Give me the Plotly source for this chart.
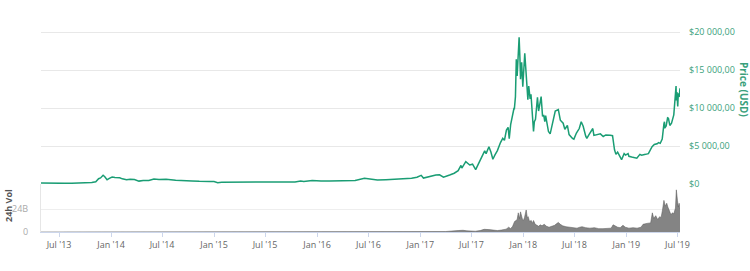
import plotly.graph_objects as go

# ---- price data (USD) ----
price_dates = [
    "2013-04-28","2013-05-15","2013-06-15","2013-07-05","2013-07-20","2013-08-15","2013-09-15","2013-10-10",
    "2013-10-25","2013-11-08","2013-11-18","2013-11-25","2013-12-01","2013-12-04","2013-12-10","2013-12-18",
    "2013-12-26","2014-01-05","2014-01-15","2014-02-01","2014-02-10","2014-02-25","2014-03-10","2014-03-25",
    "2014-04-10","2014-04-25","2014-05-15","2014-06-02","2014-06-20","2014-07-15","2014-08-18","2014-09-10",
    "2014-09-25","2014-10-15","2014-11-10","2014-11-20","2014-12-15","2015-01-01","2015-01-14","2015-01-28",
    "2015-02-15","2015-03-10","2015-04-15","2015-05-15","2015-06-15","2015-07-10","2015-08-15","2015-09-15",
    "2015-10-15","2015-11-04","2015-11-15","2015-12-15","2016-01-15","2016-02-15","2016-03-15","2016-04-15",
    "2016-05-15","2016-06-17","2016-07-01","2016-08-02","2016-09-01","2016-10-01","2016-11-01","2016-12-01",
    "2016-12-20","2017-01-04","2017-01-12","2017-02-01","2017-02-25","2017-03-10","2017-03-24","2017-04-15",
    "2017-05-01","2017-05-15","2017-05-25","2017-05-28","2017-06-11","2017-06-25","2017-07-05","2017-07-16",
    "2017-07-25","2017-08-05","2017-08-17","2017-08-22","2017-09-01","2017-09-08","2017-09-15","2017-09-22",
    "2017-10-01","2017-10-12","2017-10-20","2017-10-26","2017-11-02","2017-11-08","2017-11-12","2017-11-17",
    "2017-11-26","2017-11-29","2017-11-30","2017-12-04","2017-12-07","2017-12-10","2017-12-13","2017-12-17",
    "2017-12-20","2017-12-22","2017-12-26","2017-12-30","2018-01-06","2018-01-10","2018-01-13","2018-01-17",
    "2018-01-20","2018-01-25","2018-01-28","2018-02-01","2018-02-06","2018-02-09","2018-02-13","2018-02-20",
    "2018-02-24","2018-03-05","2018-03-10","2018-03-14","2018-03-18","2018-03-21","2018-03-31","2018-04-06",
    "2018-04-13","2018-04-24","2018-05-05","2018-05-12","2018-05-22","2018-05-28","2018-06-06","2018-06-12",
    "2018-06-24","2018-06-29","2018-07-08","2018-07-18","2018-07-25","2018-08-01","2018-08-10","2018-08-14",
    "2018-08-20","2018-09-04","2018-09-08","2018-09-20","2018-10-01","2018-10-11","2018-10-20","2018-11-05",
    "2018-11-13","2018-11-20","2018-11-25","2018-12-01","2018-12-15","2018-12-24","2018-12-29","2019-01-07",
    "2019-01-10","2019-01-20","2019-01-30","2019-02-07","2019-02-18","2019-02-24","2019-03-10","2019-03-20",
    "2019-04-02","2019-04-10","2019-04-20","2019-04-25","2019-05-01","2019-05-08","2019-05-14","2019-05-16",
    "2019-05-17","2019-05-22","2019-05-27","2019-05-30","2019-06-04","2019-06-10","2019-06-18","2019-06-22",
    "2019-06-26","2019-06-27","2019-06-29","2019-07-02","2019-07-04","2019-07-07","2019-07-10",
]
price_usd = [
    135, 115, 100, 70, 90, 105, 130, 125,
    185, 300, 700, 800, 980, 1150, 950, 550,
    750, 920, 850, 820, 680, 550, 640, 580,
    380, 470, 450, 660, 600, 620, 480, 480,
    420, 400, 360, 380, 340, 315, 180, 240,
    240, 290, 220, 240, 240, 290, 230, 230,
    260, 400, 330, 450, 380, 410, 415, 425,
    455, 750, 680, 540, 575, 615, 730, 750,
    900, 1140, 780, 980, 1180, 1200, 900, 1180,
    1420, 1750, 2450, 2100, 2950, 2500, 2600, 1900,
    2600, 3250, 4350, 4000, 4900, 4200, 3250, 3800,
    4400, 5450, 6000, 5750, 7100, 7450, 5950, 7800,
    9250, 10000, 9800, 11500, 16400, 14200, 16800, 19300,
    16400, 13800, 16000, 12800, 17200, 14500, 14200, 11100,
    12900, 11200, 11800, 9200, 6900, 8200, 8500, 11400,
    9600, 11500, 8900, 9100, 8200, 9000, 6900, 6600,
    7900, 9600, 9800, 8400, 8000, 7200, 7700, 6500,
    6000, 5900, 6700, 7300, 8200, 7600, 6300, 6000,
    6400, 7300, 6400, 6500, 6600, 6250, 6450, 6400,
    6350, 4500, 3900, 4200, 3200, 4000, 3800, 4000,
    3650, 3550, 3450, 3400, 3900, 3800, 3900, 4000,
    4900, 5200, 5300, 5450, 5350, 5900, 7900, 8200,
    7350, 7650, 8700, 8650, 7700, 8000, 9100, 10700,
    12900, 11000, 12100, 10200, 11950, 11450, 12600,
]

# ---- 24h volume data (USD billions) ----
vol_dates = [
    "2013-04-28","2017-01-01","2017-04-01","2017-05-15","2017-06-01","2017-06-15","2017-07-01","2017-07-15",
    "2017-08-01","2017-08-15","2017-09-01","2017-09-15","2017-10-01","2017-10-15","2017-11-01","2017-11-10",
    "2017-11-17","2017-11-24","2017-12-01","2017-12-06","2017-12-10","2017-12-14","2017-12-18","2017-12-22",
    "2017-12-25","2017-12-29","2018-01-01","2018-01-05","2018-01-11","2018-01-15","2018-01-18","2018-01-23",
    "2018-01-29","2018-02-03","2018-02-06","2018-02-12","2018-02-18","2018-02-24","2018-03-02","2018-03-08",
    "2018-03-16","2018-03-24","2018-04-02","2018-04-12","2018-04-22","2018-04-28","2018-05-05","2018-05-12",
    "2018-05-20","2018-06-01","2018-06-12","2018-06-25","2018-07-10","2018-07-20","2018-07-28","2018-08-10",
    "2018-08-25","2018-09-10","2018-09-25","2018-10-10","2018-10-25","2018-11-08","2018-11-15","2018-11-22",
    "2018-12-01","2018-12-10","2018-12-20","2018-12-28","2019-01-10","2019-01-25","2019-02-08","2019-02-22",
    "2019-03-01","2019-03-15","2019-03-28","2019-04-03","2019-04-08","2019-04-15","2019-04-22","2019-04-29",
    "2019-05-04","2019-05-09","2019-05-14","2019-05-19","2019-05-24","2019-05-28","2019-06-03","2019-06-08",
    "2019-06-13","2019-06-18","2019-06-24","2019-06-27","2019-07-01","2019-07-04","2019-07-07","2019-07-10",
]
vol_billions = [
    0, 0.2, 0.5, 1.5, 1.8, 1.2, 1.0, 0.8,
    1.5, 2.8, 2.5, 2.2, 1.5, 2.0, 3.0, 5.0,
    3.5, 6.0, 11.0, 12.0, 13.0, 20.0, 14.0, 21.0,
    17.0, 13.0, 12.0, 15.0, 23.0, 15.0, 16.0, 11.0,
    12.0, 9.0, 12.0, 8.0, 7.0, 6.0, 7.5, 6.5,
    8.0, 6.0, 5.0, 6.0, 7.0, 8.5, 10.0, 8.0,
    6.5, 5.5, 5.0, 4.5, 4.0, 5.0, 5.5, 4.5,
    4.0, 4.5, 3.5, 3.5, 3.5, 4.0, 7.5, 6.0,
    5.0, 4.5, 7.0, 5.0, 4.0, 4.5, 4.0, 5.0,
    8.0, 9.0, 9.5, 20.0, 14.0, 17.0, 13.0, 16.0,
    15.0, 23.0, 33.0, 27.0, 30.0, 26.0, 21.0, 18.0,
    20.0, 19.0, 25.0, 44.0, 33.0, 26.0, 30.0, 24.0,
]

# ---- axis ticks ----
x_tick_dates = ["2013-07-01","2014-01-01","2014-07-01","2015-01-01","2015-07-01","2016-01-01","2016-07-01",
                "2017-01-01","2017-07-01","2018-01-01","2018-07-01","2019-01-01","2019-07-01"]
x_tick_labels = ["Jul '13","Jan '14","Jul '14","Jan '15","Jul '15","Jan '16","Jul '16",
                 "Jan '17","Jul '17","Jan '18","Jul '18","Jan '19","Jul '19"]
price_tick_vals = [0, 5000, 10000, 15000, 20000]
price_tick_labels = ["$0", "$5 000,00", "$10 000,00", "$15 000,00", "$20 000,00"]
vol_tick_vals = [0, 24]
vol_tick_labels = ["0", "24B"]

GREEN = "#1a9d74"
GREEN_TXT = "#3a9f7c"

fig = go.Figure()
fig.add_trace(go.Scatter(
    x=vol_dates, y=vol_billions, xaxis="x", yaxis="y2", mode="lines",
    line=dict(color="rgba(90,90,90,0.9)", width=0.6), fill="tozeroy",
    fillcolor="rgba(110,110,110,0.85)", hoverinfo="skip", showlegend=False))
fig.add_trace(go.Scatter(
    x=price_dates, y=price_usd, xaxis="x", yaxis="y", mode="lines",
    line=dict(color=GREEN, width=1.5), showlegend=False))

split = 48 / 208
fig.update_layout(
    width=750, height=271,
    margin=dict(l=39, r=70, t=24, b=39),
    paper_bgcolor="white", plot_bgcolor="white",
    font=dict(family="Open Sans", size=9, color="#666"),
    xaxis=dict(anchor="y2", range=["2013-04-28", "2019-07-10"], tickvals=x_tick_dates, ticktext=x_tick_labels,
               showgrid=False, showline=True, linecolor="#ccd6eb", linewidth=1,
               ticks="outside", ticklen=4, tickcolor="#ccd6eb", tickfont=dict(size=9, color="#666"),
               zeroline=False),
    yaxis=dict(domain=[split, 1], side="right", anchor="x", range=[0, 21053],
               tickvals=price_tick_vals, ticktext=price_tick_labels,
               showgrid=True, gridcolor="#e8e8e8", gridwidth=1, zeroline=False,
               tickfont=dict(size=9, color=GREEN_TXT), ticklabelstandoff=8),
    yaxis2=dict(domain=[0, split], side="left", anchor="x", range=[0, 50.1],
                tickvals=vol_tick_vals, ticktext=vol_tick_labels,
                showgrid=True, gridcolor="#eeeeee", zeroline=False,
                showline=True, linecolor="#e6e6e6",
                tickfont=dict(size=9, color="#aaa"), ticklabelstandoff=10),
    annotations=[
        dict(text="<b>Price (USD)</b>", xref="paper", yref="paper", x=1.0, xanchor="center",
             xshift=64, y=0.6875, yanchor="middle", textangle=90, showarrow=False,
             font=dict(size=10, color=GREEN_TXT)),
        dict(text="<b>24h Vol</b>", xref="paper", yref="paper", x=0, xshift=-33, xanchor="center",
             y=0.125, yanchor="middle", textangle=-90, showarrow=False,
             font=dict(size=9, color="#555")),
    ],
)

fig.write_html("out.html")
